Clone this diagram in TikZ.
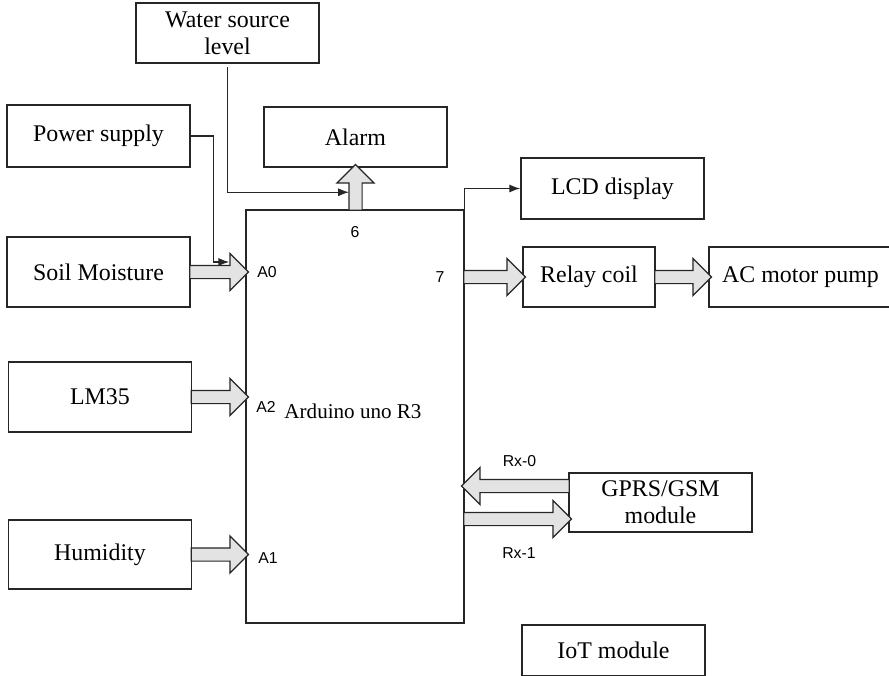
\documentclass[tikz,border=0pt]{standalone}
\usepackage{fontspec}
\setmainfont{Liberation Serif}
\newfontfamily\pinfont{Liberation Sans}
\usetikzlibrary{positioning,calc,shapes.arrows,arrows.meta}
\tikzset{>={Latex[length=6.2pt,width=4.6pt]}}
\colorlet{mygray}{black!11}
\colorlet{myline}{black!85}

\begin{document}
\begin{tikzpicture}[x=0.02cm, y=-0.02cm,
                    line join=miter,
                    block/.style={draw=myline, line width=0.9pt, minimum width=3.66cm, minimum height=1.2cm,
                                  inner sep=0pt, align=center, font=\fontsize{13.6}{15.5}\selectfont},
                    pin/.style={inner sep=0pt, font=\pinfont\fontsize{9}{10}\selectfont},
                    wire/.style={myline, line width=0.7pt, ->},
                    fat/.style={single arrow, draw=myline, fill=mygray, line width=0.7pt,
                                inner xsep=0pt, inner ysep=0.12cm, outer sep=0pt,
                                single arrow head extend=0.24cm, single arrow tip angle=90}]
  \useasboundingbox (0,0) rectangle (889,676);

  \def\fatarrow#1#2{ % block arrow from #1 to #2, tail tucked under the box edge
    \path let \p0=($(#1)!-2.5pt!(#2)$), \p1=($(#2)-(\p0)$),
              \n1={veclen(\x1,\y1)}, \n2={atan2(\y1,\x1)} in
      node[fat, minimum height=\n1, rotate=\n2] at ($(\p0)!0.5!(#2)$) {};
  }

  % controller
  \node[block, minimum width=4.36cm, minimum height=8.26cm] (ard) at (355,416.5) {};
  \node[inner sep=0pt, font=\fontsize{12}{14}\selectfont] (ardtxt) at (353,411) {Arduino uno R3};

  % inputs
  \node[block] (water) at (227.5,33) {Water source\\level};
  \node[block, minimum height=1.24cm] (power) at (98.5,136) {Power supply};
  \node[block, minimum height=1.4cm] (soil) at (98.5,272) {Soil Moisture};
  \node[block, minimum height=1.4cm] (lm35) at (100,397) {LM35};
  \node[block, minimum height=1.38cm] (hum) at (100,554.5) {Humidity};

  % outputs
  \node[block] (alarm) at (355.5,137) {Alarm};
  \node[block, minimum height=1.22cm] (lcd) at (612.5,188.5) {LCD display};
  \node[block, minimum width=2.64cm] (relay) at (589,277) {Relay coil};
  \node[block] (ac) at (800.5,277) {AC motor pump};
  \node[block, minimum height=1.18cm] (gprs) at (660.5,502.5) {GPRS/GSM\\module};
  \node[block, minimum height=1.02cm] (iot) at (613.5,650.5) {IoT module};

  % block arrows
  \fatarrow{soil.east}{ard.west |- soil.east}
  \fatarrow{lm35.east}{ard.west |- lm35.east}
  \fatarrow{hum.east}{ard.west |- hum.east}
  \fatarrow{ard.north -| alarm.south}{alarm.south}
  \fatarrow{ard.east |- relay.west}{relay.west}
  \fatarrow{relay.east}{ac.west}
  \coordinate (rx0) at ($(gprs.west)+(0,-16.5)$);
  \coordinate (rx1) at ($(gprs.west)+(0,16.5)$);
  \fatarrow{rx0}{ard.east |- rx0}
  \fatarrow{ard.east |- rx1}{rx1}

  % thin wires
  \coordinate (pwr) at ($(ard.west |- soil.east)+(-16,-10)$);
  \coordinate (wtr) at ($(ard.north -| alarm.south)+(-6.5,-17)$);
  \draw[wire] (power.east) -- ++(23,0) |- (pwr);
  \draw[wire] ($(water.south)+(0,3)$) |- (wtr);
  \draw[wire] (ard.north east) |- (lcd.west);

  % pin labels
  \node[pin] (p6) at (355,232) {6};
  \node[pin] (p7) at (440,277) {7};
  \node[pin] (pa0) at (267,272) {A0};
  \node[pin] (pa2) at (266,407) {A2};
  \node[pin] (pa1) at (268,558) {A1};
  \node[pin] (prx0) at (519.5,461) {Rx-0};
  \node[pin] (prx1) at (519,553) {Rx-1};
\end{tikzpicture}
\end{document}
